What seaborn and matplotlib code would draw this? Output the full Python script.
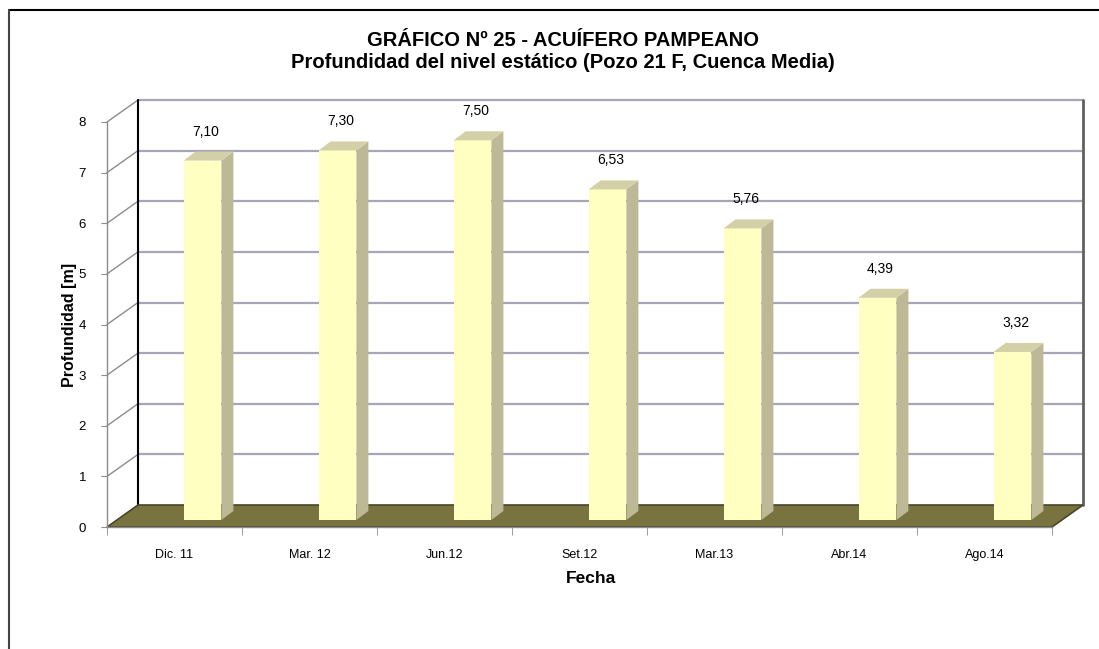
import matplotlib
matplotlib.use("Agg")
import matplotlib.pyplot as plt
from matplotlib.patches import Polygon
from matplotlib.lines import Line2D
import matplotlib.transforms as mtransforms
import pandas as pd
import seaborn as sns

fechas = ["Dic. 11", "Mar. 12", "Jun.12", "Set.12", "Mar.13", "Abr.14", "Ago.14"]
profundidad = [7.10, 7.30, 7.50, 6.53, 5.76, 4.39, 3.32]
y_ticks = [0, 1, 2, 3, 4, 5, 6, 7, 8]

df = pd.DataFrame({"Fecha": fechas, "Profundidad": profundidad})

sns.set_style("white")
plt.rcParams["font.family"] = ["Liberation Sans", "DejaVu Sans"]
plt.rcParams["text.color"] = "black"
plt.rcParams["axes.labelcolor"] = "black"
plt.rcParams["xtick.labelcolor"] = "black"
plt.rcParams["ytick.labelcolor"] = "black"

W, H = 1099, 649
fig = plt.figure(figsize=(W / 100, H / 100), dpi=100)
ax = fig.add_axes([107 / W, 122 / H, 945 / W, 405 / H])
ax.set_xlim(-0.5, len(fechas) - 0.5)
ax.set_ylim(0, 8)
ax.patch.set_alpha(0)

# 3D offsets in pixels (x right, y up)
WALL = (31, 22)
BAR = (28, 7)
DEPTH = (12, 9)


def pt(x, y, dx=0, dy=0):
    X, Y = ax.transData.transform((x, y))
    return ax.transData.inverted().transform((X + dx, Y + dy))


def poly(points, **kw):
    p = Polygon(points, closed=True, clip_on=False, **kw)
    ax.add_patch(p)
    return p


x0, x1 = -0.5, len(fechas) - 0.5
ymax = y_ticks[-1]

# back wall gridlines + left wall diagonals
for v in y_ticks[1:]:
    a, b = pt(x0, v, *WALL), pt(x1, v, *WALL)
    ax.plot([a[0], b[0]], [a[1], b[1]], color="#a6a6b6", lw=1.6, clip_on=False, zorder=1)
    c = pt(x0, v)
    ax.plot([c[0], a[0]], [c[1], a[1]], color="#8c8c8c", lw=1.0, clip_on=False, zorder=1)

# back wall edges
a, b = pt(x0, 0, *WALL), pt(x0, ymax, *WALL)
ax.plot([a[0], b[0]], [a[1], b[1]], color="black", lw=1.5, clip_on=False, zorder=2)
a, b = pt(x1, 0, *WALL), pt(x1, ymax, *WALL)
ax.plot([a[0], b[0]], [a[1], b[1]], color="#606060", lw=2.0, clip_on=False, zorder=2)

# floor
poly([pt(x0, 0), pt(x1, 0), pt(x1, 0, *WALL), pt(x0, 0, *WALL)],
     facecolor="#78733f", edgecolor="#4a4628", lw=1.2, zorder=2)

# bars
sns.barplot(data=df, x="Fecha", y="Profundidad", width=0.28, color="#ffffc2",
            saturation=1, ax=ax, zorder=3)
off = mtransforms.ScaledTranslation(BAR[0] / 100, BAR[1] / 100, fig.dpi_scale_trans)
ex, ey = BAR[0] + DEPTH[0], BAR[1] + DEPTH[1]
for bar in ax.patches[1:]:
    if bar.get_width() > 1:
        continue
    bx, bw, bh = bar.get_x(), bar.get_width(), bar.get_height()
    bar.set_transform(ax.transData + off)
    bar.set_clip_on(False)
    bar.set_edgecolor("none")
    poly([pt(bx + bw, 0, *BAR), pt(bx + bw, bh, *BAR), pt(bx + bw, bh, ex, ey),
          pt(bx + bw, 0, ex, ey)], facecolor="#bdb996", edgecolor="none", zorder=3)
    poly([pt(bx, bh, *BAR), pt(bx + bw, bh, *BAR), pt(bx + bw, bh, ex, ey),
          pt(bx, bh, ex, ey)], facecolor="#d3cfa6", edgecolor="none", zorder=3)

# value labels
for i, v in enumerate(profundidad):
    ax.annotate(f"{v:.2f}".replace(".", ","), xy=(i, v), xytext=(31 * 0.72, 36 * 0.72),
                textcoords="offset points", ha="center", va="center", fontsize=10,
                annotation_clip=False, zorder=5)

# axes
sns.despine(ax=ax, top=True, right=True)
for s in ("left", "bottom"):
    ax.spines[s].set_color("#8c8c8c")
    ax.spines[s].set_linewidth(1.0)
ax.set_yticks(y_ticks)
ax.set_yticklabels([str(t) for t in y_ticks], fontsize=9.5)
ax.tick_params(axis="y", left=True, length=4, color="#8c8c8c", pad=11)
ax.set_xticks(range(len(fechas)))
ax.set_xticklabels(fechas, fontsize=9)
ax.tick_params(axis="x", which="major", length=0, pad=16)
ax.set_xticks([x0 + k for k in range(len(fechas) + 1)], minor=True)
ax.tick_params(axis="x", which="minor", bottom=True, length=6, color="#8c8c8c")

ax.set_xlabel("Fecha", fontsize=12.5, fontweight="bold")
ax.xaxis.set_label_coords(0.512, -0.108)
ax.set_ylabel("Profundidad [m]", fontsize=11.5, fontweight="bold")
ax.yaxis.set_label_coords(-0.032, 0.5)

fig.text(563 / W, 1 - 40 / H, "GRÁFICO Nº 25 - ACUÍFERO PAMPEANO", ha="center",
         va="center", fontsize=14.5, fontweight="bold")
fig.text(563 / W, 1 - 63 / H, "Profundidad del nivel estático (Pozo 21 F, Cuenca Media)",
         ha="center", va="center", fontsize=14.5, fontweight="bold")

# page border
fig.add_artist(Line2D([9 / W, 1], [1 - 10 / H, 1 - 10 / H], color="black", lw=1.5))
fig.add_artist(Line2D([9 / W, 9 / W], [0, 1 - 10 / H], color="#444444", lw=1.5))

fig.savefig("out.png", dpi=100)
